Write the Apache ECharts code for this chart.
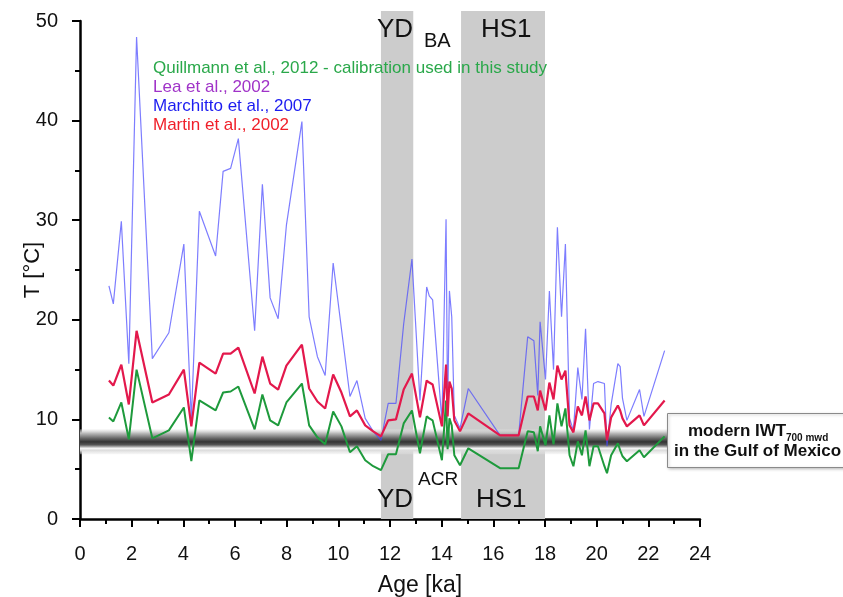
<!DOCTYPE html>
<html>
<head>
<meta charset="utf-8">
<title>Intermediate water temperature, Gulf of Mexico</title>
<script src="https://cdn.jsdelivr.net/npm/echarts@6/dist/echarts.min.js"></script>
<style>
  html, body { margin: 0; padding: 0; background: #ffffff; }
  #chart { width: 843px; height: 597px; }
</style>
</head>
<body>
<div id="chart"></div>
<script>
// Sample ages (ka)
const ages = [1.12, 1.29, 1.60, 1.89, 2.19, 2.80, 3.44, 4.02, 4.31, 4.62,
  5.25, 5.54, 5.83, 6.13, 6.76, 7.06, 7.36, 7.67, 7.99, 8.59,
  8.87, 9.19, 9.49, 9.80, 10.12, 10.45, 10.72, 11.04, 11.35, 11.65,
  11.93, 12.23, 12.53, 12.85, 13.16, 13.42, 13.52, 13.65, 14.01, 14.17,
  14.23, 14.30, 14.39, 14.49, 14.71, 15.03, 16.26, 16.98, 17.33, 17.57,
  17.72, 17.81, 18.02, 18.17, 18.33, 18.48, 18.64, 18.79, 18.95, 19.10,
  19.27, 19.43, 19.57, 19.72, 19.88, 20.05, 20.30, 20.40, 20.56, 20.82,
  20.91, 21.00, 21.17, 21.66, 21.83, 22.63];

// Temperatures (°C) from the different Mg/Ca calibrations
const marchittoT = [23.4, 21.6, 29.9, 15.6, 48.4, 16.1, 18.7, 27.6, 10.0, 30.9,
  26.4, 34.9, 35.2, 38.2, 18.9, 33.6, 22.2, 20.1, 29.5, 39.9,
  20.3, 16.3, 14.4, 25.7, 19.1, 12.3, 13.9, 10.1, 8.8, 7.9,
  11.6, 11.6, 19.6, 26.1, 11.9, 23.3, 22.4, 22.0, 9.8, 30.1,
  10.5, 22.9, 20.3, 10.4, 9.1, 13.1, 8.4, 8.4, 18.3, 17.9,
  12.4, 19.8, 14.0, 22.9, 15.0, 29.3, 20.3, 27.6, 10.1, 8.9,
  15.2, 12.0, 19.1, 9.0, 13.6, 13.8, 13.6, 7.3, 11.5, 15.6,
  15.3, 12.1, 9.9, 13.0, 10.3, 16.9];

const martinT = [13.9, 13.4, 15.5, 11.5, 18.9, 11.7, 12.5, 15.0, 9.3, 15.7,
  14.6, 16.6, 16.6, 17.2, 12.6, 16.3, 13.6, 13.0, 15.4, 17.5,
  13.1, 11.8, 11.1, 14.5, 12.7, 10.3, 10.9, 9.4, 8.8, 8.3,
  9.9, 10.0, 13.0, 14.6, 10.2, 13.9, 13.7, 13.5, 9.3, 15.5,
  10.3, 13.8, 13.1, 9.9, 8.8, 10.6, 8.4, 8.4, 12.3, 12.3,
  10.9, 12.9, 10.9, 13.7, 12.0, 15.4, 14.0, 14.9, 9.4, 8.7,
  11.3, 10.4, 12.3, 9.9, 11.6, 11.6, 10.6, 7.9, 10.2, 11.4,
  10.9, 10.1, 9.3, 10.4, 9.4, 11.9];

const quillmannT = [10.2, 9.8, 11.7, 8.0, 15.0, 8.1, 8.9, 11.2, 5.8, 11.9,
  10.9, 12.7, 12.8, 13.3, 9.0, 12.5, 9.9, 9.4, 11.7, 13.6,
  9.4, 8.2, 7.5, 10.8, 9.3, 6.7, 7.3, 5.9, 5.3, 4.9,
  6.5, 6.5, 9.6, 10.9, 6.6, 10.3, 10.1, 9.9, 5.9, 11.9,
  7.0, 10.1, 9.4, 6.4, 5.4, 7.1, 5.1, 5.1, 8.8, 8.7,
  6.8, 9.3, 7.4, 10.4, 7.5, 11.6, 9.3, 11.1, 6.4, 5.3,
  7.8, 6.4, 8.9, 5.3, 7.3, 7.3, 5.3, 4.6, 6.4, 7.6,
  6.9, 6.3, 5.8, 6.9, 6.2, 8.3];

// Climate intervals (ka)
const youngerDryas = [11.65, 12.9];
const heinrichStadial1 = [14.75, 18.0];
// Modern intermediate water temperature at 700 m water depth (°C)
const modernIWT = [6.5, 9.0];
// Axis ticks
const xTicks = { min: 0, max: 24, step: 2 };
const yTicks = { min: 0, max: 50, step: 10 };

const seriesNames = {
  quillmann: 'Quillmann et al., 2012 - calibration used in this study',
  lea: 'Lea et al., 2002',
  marchitto: 'Marchitto et al., 2007',
  martin: 'Martin et al., 2002'
};

const FONT = '"Liberation Sans", Arial, sans-serif';
const pairs = (vals) => ages.map((a, i) => [a, vals[i]]);

const chart = echarts.init(document.getElementById('chart'), null, { renderer: 'canvas' });

const axisLine = { show: true, lineStyle: { color: '#000', width: 2.5 } };
const axisTick = { show: true, inside: false, length: 8, lineStyle: { color: '#000', width: 2 } };
const minorTick = { show: true, splitNumber: 2, length: 5, lineStyle: { color: '#000', width: 2 } };

chart.setOption({
  backgroundColor: '#ffffff',
  animation: false,
  legend: {
    orient: 'vertical',
    left: 142,
    top: 54,
    itemWidth: 0,
    itemHeight: 0,
    itemGap: 0,
    selectedMode: false,
    textStyle: { fontFamily: FONT, fontSize: 17, lineHeight: 19 },
    data: [
      { name: seriesNames.quillmann, textStyle: { color: '#2aa84a' } },
      { name: seriesNames.lea, textStyle: { color: '#a033c8' } },
      { name: seriesNames.marchitto, textStyle: { color: '#1c1cf0' } },
      { name: seriesNames.martin, textStyle: { color: '#f0202a' } }
    ]
  },
  grid: [
    { left: 80, right: 143, top: 21, bottom: 78, outerBoundsMode: 'none', containLabel: false },
    { left: 80, right: 143, top: 11, bottom: 78, outerBoundsMode: 'none', containLabel: false }
  ],
  xAxis: [
    {
      gridIndex: 0, type: 'value',
      min: xTicks.min, max: xTicks.max, interval: xTicks.step,
      name: 'Age [ka]', nameLocation: 'middle', nameGap: 55, nameMoveOverlap: false,
      nameTextStyle: { fontFamily: FONT, fontSize: 23, color: '#111', padding: [0, 0, 0, 60] },
      axisLine, axisTick, minorTick,
      splitLine: { show: false },
      axisLabel: { fontFamily: FONT, fontSize: 20, color: '#111', margin: 25 }
    },
    {
      gridIndex: 1, type: 'value', min: xTicks.min, max: xTicks.max, show: false
    }
  ],
  yAxis: [
    {
      gridIndex: 0, type: 'value',
      min: yTicks.min, max: yTicks.max, interval: yTicks.step,
      name: 'T [°C]', nameLocation: 'middle', nameGap: 36, nameMoveOverlap: false,
      nameTextStyle: { fontFamily: FONT, fontSize: 22, color: '#111' },
      axisLine, axisTick, minorTick,
      splitLine: { show: false },
      axisLabel: { fontFamily: FONT, fontSize: 20, color: '#111', margin: 22 }
    },
    {
      gridIndex: 1, type: 'value', min: 0, max: 1, show: false
    }
  ],
  series: [
    {
      // Shaded YD and HS1 intervals
      type: 'line', xAxisIndex: 1, yAxisIndex: 1, data: [], z: 0,
      silent: true,
      markArea: {
        silent: true,
        itemStyle: { color: '#cccccc', opacity: 1 },
        data: [
          [{ xAxis: youngerDryas[0], yAxis: 0 }, { xAxis: youngerDryas[1], yAxis: 1 }],
          [{ xAxis: heinrichStadial1[0], yAxis: 0 }, { xAxis: heinrichStadial1[1], yAxis: 1 }]
        ]
      }
    },
    {
      // Modern IWT band
      type: 'line', xAxisIndex: 0, yAxisIndex: 0, data: [], z: 1,
      silent: true,
      markArea: {
        silent: true,
        itemStyle: {
          opacity: 1,
          color: new echarts.graphic.LinearGradient(0, 0, 0, 1, [
            { offset: 0, color: 'rgba(225,225,225,0.35)' },
            { offset: 0.15, color: '#bdbdbd' },
            { offset: 0.35, color: '#6a6a6a' },
            { offset: 0.5, color: '#333333' },
            { offset: 0.62, color: '#555555' },
            { offset: 0.7, color: '#ababab' },
            { offset: 0.76, color: '#f6f6f6' },
            { offset: 0.84, color: '#dcdcdc' },
            { offset: 1, color: 'rgba(228,228,228,0.3)' }
          ])
        },
        data: [
          [{ xAxis: 0, yAxis: modernIWT[0] }, { xAxis: 23, yAxis: modernIWT[1] }]
        ]
      }
    },
    {
      name: seriesNames.quillmann, type: 'line', data: pairs(quillmannT),
      showSymbol: false, symbol: 'none', z: 4,
      color: '#2aa84a',
      lineStyle: { color: '#1e9a3c', width: 2 }
    },
    {
      name: seriesNames.lea, type: 'line', data: [],
      showSymbol: false, symbol: 'none', z: 3,
      color: '#a033c8',
      lineStyle: { color: '#a033c8', width: 2 }
    },
    {
      name: seriesNames.marchitto, type: 'line', data: pairs(marchittoT),
      showSymbol: false, symbol: 'none', z: 3,
      color: '#1c1cf0',
      lineStyle: { color: 'rgba(70,70,255,0.7)', width: 1.2 }
    },
    {
      name: seriesNames.martin, type: 'line', data: pairs(martinT),
      showSymbol: false, symbol: 'none', z: 5,
      color: '#f0202a',
      lineStyle: { color: '#e3184c', width: 2.2 }
    }
  ],
  graphic: [
    // Interval labels
    { type: 'text', left: 377, top: 17, z: 20, style: { text: 'YD', font: '26px ' + FONT, fill: '#111' } },
    { type: 'text', left: 424, top: 31, z: 20, style: { text: 'BA', font: '20px ' + FONT, fill: '#111' } },
    { type: 'text', left: 481, top: 17, z: 20, style: { text: 'HS1', font: '26px ' + FONT, fill: '#111' } },
    { type: 'text', left: 377, top: 487, z: 20, style: { text: 'YD', font: '26px ' + FONT, fill: '#111' } },
    { type: 'text', left: 418, top: 470, z: 20, style: { text: 'ACR', font: '19px ' + FONT, fill: '#111' } },
    { type: 'text', left: 476, top: 487, z: 20, style: { text: 'HS1', font: '26px ' + FONT, fill: '#111' } },
    // Modern IWT callout box
    {
      type: 'rect', left: 667, top: 413, z: 20,
      shape: { width: 190, height: 54 },
      style: { fill: '#ffffff', stroke: '#8a8a8a', lineWidth: 1, shadowColor: 'rgba(0,0,0,0.25)', shadowBlur: 3, shadowOffsetX: 1, shadowOffsetY: 1 }
    },
    { type: 'text', left: 688, top: 423, z: 21, style: { text: 'modern IWT', font: 'bold 17px ' + FONT, fill: '#111' } },
    { type: 'text', left: 786, top: 433, z: 21, style: { text: '700 mwd', font: 'bold 10px ' + FONT, fill: '#111' } },
    { type: 'text', left: 674, top: 443, z: 21, style: { text: 'in the Gulf of Mexico', font: 'bold 17px ' + FONT, fill: '#111' } }
  ]
});
</script>
</body>
</html>
